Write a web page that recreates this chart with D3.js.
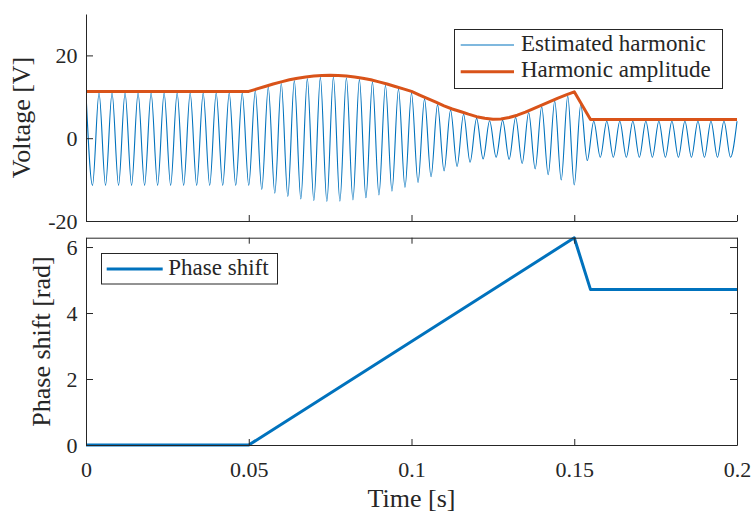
<!DOCTYPE html>
<html>
<head>
<meta charset="utf-8">
<script src="https://cdn.jsdelivr.net/npm/d3@7"></script>
<style>
  body { margin: 0; background: #fff; }
</style>
</head>
<body>
<div id="grafico"></div>
<script>
// envelope of the harmonic (orange line)
const envTime = [0, 0.05, 0.0525, 0.055, 0.0575, 0.06, 0.0625, 0.065, 0.0675, 0.07, 0.0725,
    0.075, 0.0775, 0.08, 0.0825, 0.085, 0.0875, 0.09, 0.0925, 0.095, 0.0975, 0.1,
    0.1025, 0.105, 0.1075, 0.11, 0.1125, 0.115, 0.1175, 0.12, 0.1225, 0.125, 0.1275,
    0.13, 0.1325, 0.135, 0.1375, 0.14, 0.1425, 0.145, 0.1475, 0.15, 0.155, 0.2];
const envVolt = [11.3, 11.3, 11.9, 12.5, 13.1, 13.6, 14.1, 14.5, 14.8, 15.0, 15.15,
    15.2, 15.15, 15.0, 14.8, 14.5, 14.1, 13.6, 13.1, 12.5, 11.9, 11.3,
    10.4, 9.55, 8.7, 7.8, 7.05, 6.45, 5.8, 5.2, 4.8, 4.55, 4.65,
    5.0, 5.55, 6.3, 7.15, 8.0, 8.85, 9.7, 10.45, 11.2, 4.5, 4.5];

// estimated harmonic (blue): one extreme every half cycle of 250 Hz
const halfCycle = 0.002;
const harmonicPeaks = [
    10.9, -11.4, 10.9, -11.4, 10.9, -11.4, 10.9, -11.4, 10.9, -11.4,
    10.9, -11.4, 10.9, -11.4, 10.9, -11.4, 10.9, -11.4, 10.9, -11.4,
    10.9, -11.4, 10.9, -11.4, 10.9, -11.4, 11.4, -12.4, 12.3, -13.3,
    13.2, -14.1, 13.9, -14.7, 14.4, -15.1, 14.7, -15.3, 14.8, -15.2,
    14.6, -14.9, 14.2, -14.4, 13.6, -13.7, 12.8, -12.8, 11.9, -11.9,
    10.9, -10.7, 9.5, -9.3, 8.1, -7.9, 6.8, -6.8, 5.8, -5.8,
    4.8, -5.0, 4.2, -4.6, 4.3, -5.1, 5.0, -6.1, 6.2, -7.4,
    7.6, -8.8, 9.0, -10.1, 10.2, -11.3, 8.1, -5.4, 4.1, -4.6,
    4.1, -4.6, 4.1, -4.6, 4.1, -4.6, 4.1, -4.6, 4.1, -4.6,
    4.1, -4.6, 4.1, -4.6, 4.1, -4.6, 4.1, -4.6, 4.1, -4.6,
    4.1];

// phase shift (bottom)
const phaseTime = [0, 0.05, 0.15, 0.155, 0.2];
const phaseRad = [0, 0, 6.28, 4.71, 4.71];

const xTicks = [0, 0.05, 0.1, 0.15, 0.2];
const voltTicks = [-20, 0, 20];
const phaseTicks = [0, 2, 4, 6];

const azul = "#0072BD";
const laranja = "#D95319";
const cinza = "#262626";
const fonte = "'Liberation Serif', 'Times New Roman', serif";

var largura = 755, altura = 514;
var esq = 86, dir = 737;

var svg = d3.select("#grafico").append("svg")
    .attr("width", largura)
    .attr("height", altura)
    .style("background", "#fff");

var x = d3.scaleLinear().domain([0, 0.2]).range([esq, dir]);
var yV = d3.scaleLinear().domain([-20, 30]).range([221, 14]);
var yP = d3.scaleLinear().domain([0, 2 * Math.PI]).range([445, 237.7]);

function eixo(g, ax) {
    g.call(ax);
    g.attr("font-size", 22).attr("font-family", fonte).attr("color", cinza);
    g.selectAll("text").attr("fill", cinza);
    return g;
}

var defs = svg.append("defs");
defs.append("clipPath").attr("id", "clipTopo")
    .append("rect").attr("x", esq).attr("y", 14).attr("width", dir - esq + 1).attr("height", 207);
defs.append("clipPath").attr("id", "clipBaixo")
    .append("rect").attr("x", esq).attr("y", 234).attr("width", dir - esq + 1).attr("height", 214);

// ---------- top plot ----------
var topo = svg.append("g");

var harmonic = harmonicPeaks.map((v, k) => [k * halfCycle, v]);
var linhaH = d3.line().x(d => x(d[0])).y(d => yV(d[1])).curve(d3.curveMonotoneX);
topo.append("path")
    .attr("clip-path", "url(#clipTopo)")
    .attr("d", linhaH(harmonic))
    .attr("fill", "none")
    .attr("stroke", azul)
    .attr("stroke-width", 1.1);

var linhaE = d3.line().x((d, i) => x(envTime[i])).y(d => yV(d));
topo.append("path")
    .attr("clip-path", "url(#clipTopo)")
    .attr("d", linhaE(envVolt))
    .attr("fill", "none")
    .attr("stroke", laranja)
    .attr("stroke-width", 3)
    .attr("stroke-linejoin", "round");

eixo(topo.append("g").attr("transform", "translate(" + esq + ",0)"),
    d3.axisLeft(yV).tickValues(voltTicks).tickSize(-7).tickSizeOuter(0).tickPadding(8.5)
        .tickFormat(d => d < 0 ? "-" + Math.abs(d) : String(d)));
eixo(topo.append("g").attr("transform", "translate(0,221)"),
    d3.axisBottom(x).tickValues(xTicks).tickSize(-6).tickSizeOuter(0).tickFormat(""));

// legend top
var leg1 = topo.append("g");
leg1.append("rect")
    .attr("x", 454.5).attr("y", 29.5).attr("width", 268).attr("height", 59)
    .attr("fill", "#fff").attr("stroke", cinza).attr("stroke-width", 1);
leg1.append("line").attr("x1", 460.7).attr("x2", 514).attr("y1", 45).attr("y2", 45)
    .attr("stroke", azul).attr("stroke-width", 1.1);
leg1.append("line").attr("x1", 460.7).attr("x2", 514).attr("y1", 71.7).attr("y2", 71.7)
    .attr("stroke", laranja).attr("stroke-width", 3);
leg1.append("text").attr("x", 521).attr("y", 50.7).text("Estimated harmonic");
leg1.append("text").attr("x", 521).attr("y", 77.4).text("Harmonic amplitude");
leg1.selectAll("text").attr("font-family", fonte).attr("font-size", 23).attr("fill", cinza);

// ---------- bottom plot ----------
var baixo = svg.append("g");

var linhaP = d3.line().x((d, i) => x(phaseTime[i])).y(d => yP(d));
baixo.append("path")
    .attr("clip-path", "url(#clipBaixo)")
    .attr("d", linhaP(phaseRad))
    .attr("fill", "none")
    .attr("stroke", azul)
    .attr("stroke-width", 3)
    .attr("stroke-linejoin", "round");

eixo(baixo.append("g").attr("transform", "translate(" + esq + ",0)"),
    d3.axisLeft(yP).tickValues(phaseTicks).tickSize(-7).tickSizeOuter(0).tickPadding(8.5)
        .tickFormat(d => String(d)));
eixo(baixo.append("g").attr("transform", "translate(" + dir + ",0)"),
    d3.axisRight(yP).tickValues(phaseTicks).tickSize(-7).tickSizeOuter(0).tickFormat(""));
eixo(baixo.append("g").attr("transform", "translate(0,445)"),
    d3.axisBottom(x).tickValues(xTicks).tickSize(-6).tickSizeOuter(0).tickPadding(16)
        .tickFormat(d => String(d)));
eixo(baixo.append("g").attr("transform", "translate(0,237.7)"),
    d3.axisTop(x).tickValues(xTicks).tickSize(-6).tickSizeOuter(0).tickFormat(""));

// legend bottom
var leg2 = baixo.append("g");
leg2.append("rect")
    .attr("x", 101.5).attr("y", 253.5).attr("width", 176).attr("height", 30.5)
    .attr("fill", "#fff").attr("stroke", cinza).attr("stroke-width", 1);
leg2.append("line").attr("x1", 106.7).attr("x2", 162.7).attr("y1", 269).attr("y2", 269)
    .attr("stroke", azul).attr("stroke-width", 3);
leg2.append("text").attr("x", 168.3).attr("y", 274.7).text("Phase shift")
    .attr("font-family", fonte).attr("font-size", 23).attr("fill", cinza);

// axis titles
svg.append("text")
    .attr("transform", "translate(30,117.5) rotate(-90)")
    .attr("text-anchor", "middle")
    .attr("font-family", fonte).attr("font-size", 26).attr("fill", cinza)
    .text("Voltage [V]");
svg.append("text")
    .attr("transform", "translate(50,341.5) rotate(-90)")
    .attr("text-anchor", "middle")
    .attr("font-family", fonte).attr("font-size", 26).attr("fill", cinza)
    .text("Phase shift [rad]");
svg.append("text")
    .attr("x", 411.5).attr("y", 506.7)
    .attr("text-anchor", "middle")
    .attr("font-family", fonte).attr("font-size", 26).attr("fill", cinza)
    .text("Time [s]");
</script>
</body>
</html>
